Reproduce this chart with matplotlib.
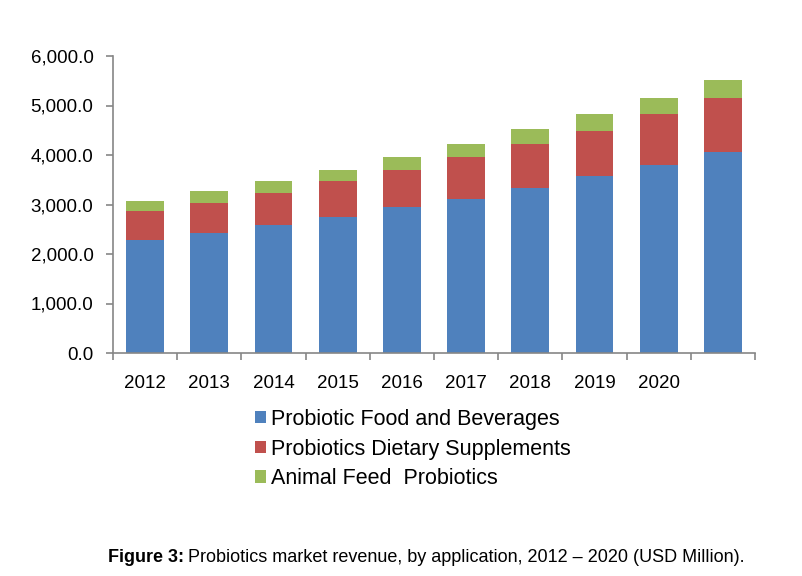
import matplotlib
matplotlib.use("Agg")
import matplotlib.pyplot as plt
import numpy as np

years = ["2012", "2013", "2014", "2015", "2016", "2017", "2018", "2019", "2020", ""]
food = [2285, 2419, 2580, 2742, 2943, 3105, 3339, 3569, 3796, 4065]
supplements = [590, 618, 658, 731, 759, 859, 887, 919, 1029, 1088]
feed = [195, 235, 235, 229, 262, 262, 296, 337, 328, 363]
series_names = ["Probiotic Food and Beverages", "Probiotics Dietary Supplements", "Animal Feed  Probiotics"]
colors = ["#4f81bd", "#c0504d", "#9bbb59"]

plt.rcParams['font.family'] = ['Liberation Sans', 'DejaVu Sans']

fig = plt.figure(figsize=(8.02, 5.76), dpi=100)
ax = fig.add_axes([113 / 802, 1 - 353 / 576, (755 - 113) / 802, (353 - 56) / 576])

x = np.arange(len(years))
bottom = np.zeros(len(years))
handles = []
for vals, name, c in zip([food, supplements, feed], series_names, colors):
    h = ax.bar(x, vals, 0.59, bottom=bottom, color=c, label=name, edgecolor='none')
    handles.append(h)
    bottom = bottom + np.array(vals)

axis_gray = "#868686"
ax.set_xlim(-0.5, len(years) - 0.5)
ax.set_ylim(0, 6000)
ax.set_yticks(np.arange(0, 6001, 1000))
ax.set_yticklabels([f"{v:,.1f}" for v in np.arange(0, 6001, 1000)], fontsize=13.5)
ax.set_xticks(x)
ax.set_xticklabels(years, fontsize=13.5)
ax.set_xticks(np.arange(-0.5, len(years), 1), minor=True)
ax.tick_params(axis='x', which='major', length=0, pad=16)
ax.tick_params(axis='x', which='minor', length=5, color=axis_gray, width=1.2)
ax.tick_params(axis='y', length=5, color=axis_gray, width=1.2, pad=9)
for s in ["top", "right"]:
    ax.spines[s].set_visible(False)
for s in ["left", "bottom"]:
    ax.spines[s].set_color(axis_gray)
    ax.spines[s].set_linewidth(1.2)

fig.legend(handles, series_names, loc='upper left', bbox_to_anchor=(255 / 802, 1 - 409 / 576),
           frameon=False, fontsize=15.5, handlelength=0.5, handleheight=0.5,
           handletextpad=0.25, labelspacing=0.4, borderpad=0, borderaxespad=0)

fig.canvas.draw()
renderer = fig.canvas.get_renderer()
t = fig.text(108 / 802, 1 - 558 / 576, "Figure 3:", fontsize=13, fontweight='bold', va='center')
bb = t.get_window_extent(renderer)
fig.text((bb.x1 + 4) / 802, 1 - 558 / 576,
         "Probiotics market revenue, by application, 2012 \u2013 2020 (USD Million).",
         fontsize=13, va='center')

fig.savefig("out.png", dpi=100)
